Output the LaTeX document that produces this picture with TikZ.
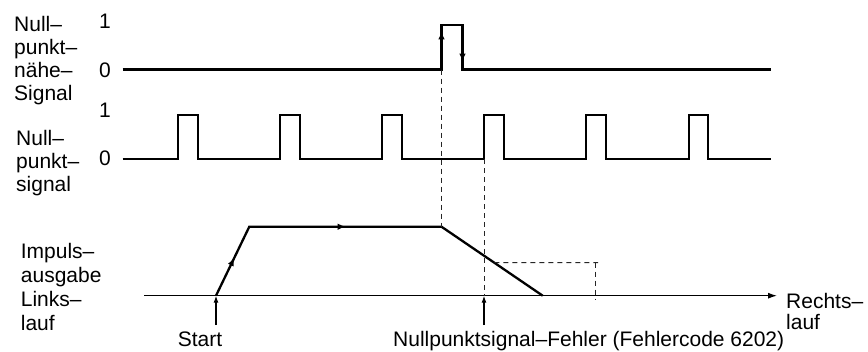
\documentclass[tikz,border=0pt]{standalone}
\usepackage{fontspec}
\setmainfont{Liberation Sans}
\usetikzlibrary{arrows.meta,decorations.markings,calc}
\newcommand\lbllines[1]{\begin{tabular}[t]{@{}l@{}}#1\end{tabular}}
\begin{document}
\begin{tikzpicture}[x=1pt,y=-1pt,
  sig/.style={line width=2.3pt, line join=miter},
  sigb/.style={line width=2pt, line join=miter},
  thinline/.style={line width=1.1pt},
  dsh/.style={line width=1pt, dash pattern=on 5pt off 4pt, black!85},
  txt/.style={inner sep=0pt, font=\fontsize{21}{23}\selectfont},
  midtip/.tip={Latex[length=8pt,width=6.5pt]},
  pointer/.style={thinline, -{Latex[length=7pt,width=5pt]}}]
\useasboundingbox (0,0) rectangle (868,351);

% upper signal (Nullpunktnaehe)
\coordinate (a0) at (122.7,69.5);
\coordinate (a1) at (441.5,69.5);
\coordinate (a2) at (441.5,24.7);
\coordinate (a3) at (462.5,24.7);
\coordinate (a4) at (462.5,69.5);
\coordinate (a5) at (771,69.5);
\draw[sig, postaction={decorate}, decoration={markings,
    mark=at position 357pt with {\arrow{midtip}},
    mark=at position 421.5pt with {\arrow{midtip}}}]
  (a0) -- (a1) -- (a2) -- (a3) -- (a4) -- (a5);

% lower signal (Nullpunktsignal)
\coordinate (b0) at (122.7,159.3);
\coordinate (b1) at (771,159.3);
\coordinate (bf) at (484,159.3);
\draw[sigb] (b0) foreach \x in {178.3,280,382,484,586,688.5} {
    -- (\x,159.3) -- (\x,114.7) -- ({\x+19.5},114.7) -- ({\x+19.5},159.3) } -- (b1);

% pulse output trapezoid
\coordinate (t0) at (216,295.7);
\coordinate (t1) at (249.3,226.7);
\coordinate (t2) at (441.5,226.7);
\coordinate (t3) at (542.7,295.7);
\draw[sig, postaction={decorate}, decoration={markings,
    mark=at position 42pt with {\arrow{midtip}},
    mark=at position 173pt with {\arrow{midtip}}}]
  (t0) -- (t1) -- (t2) -- (t3);

% axis
\coordinate (ax0) at (144,295.7);
\coordinate (ax1) at (777,295.7);
\draw[thinline, -{Latex[length=9pt,width=6pt]}] (ax0) -- (ax1);

% pointers
\coordinate (s0) at (216,325);
\draw[pointer] (s0) -- (t0);
\coordinate (f0) at (484,325);
\coordinate (f1) at (484,295.7);
\draw[pointer] (f0) -- (f1);

% dashed helper lines
\draw[dsh] (a1) -- (t2);
\draw[dsh] (bf) -- (f1);
\coordinate (h0) at ($(t2)!0.522!(t3)$);
\coordinate (h1) at (598,262.7);
\draw[dsh] (h0) -- (h1);
\coordinate (v0) at (595,262.7);
\coordinate (v1) at (595,299.5);
\draw[dsh] (v0) -- (v1);

% labels
\node[txt, anchor=base west] (l1) at (14,31.7) {\lbllines{Null–\\punkt–\\nähe–\\Signal}};
\node[txt, anchor=base west] (l2) at (16,145) {\lbllines{Null–\\punkt–\\signal}};
\node[txt, anchor=base west, font=\fontsize{21}{24}\selectfont] (l3) at (20.7,258.3) {\lbllines{Impuls–\\ausgabe\\Links–\\lauf}};
\node[txt, anchor=base west, font=\fontsize{21}{20}\selectfont] (l4) at (786,308) {\lbllines{Rechts–\\lauf}};
\node[txt] (y1a) at (105,21.5) {1};
\node[txt] (y0a) at (105,70) {0};
\node[txt] (y1b) at (105,110) {1};
\node[txt] (y0b) at (105,158) {0};
\node[txt, anchor=base] (st) at (200,346) {Start};
\node[txt, anchor=base west] (fe) at (393,346) {Nullpunktsignal–Fehler (Fehlercode 6202)};
\end{tikzpicture}
\end{document}
